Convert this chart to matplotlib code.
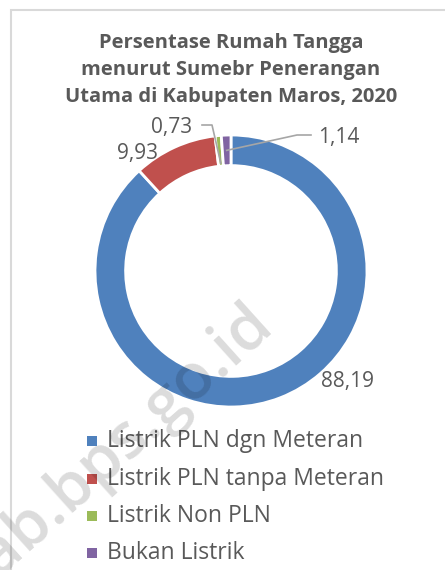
import matplotlib
matplotlib.use("Agg")
import matplotlib.pyplot as plt
from matplotlib.patches import Rectangle
import numpy as np

plt.rcParams['font.family'] = ['Open Sans', 'DejaVu Sans']

# data
categories = ['Listrik PLN dgn Meteran', 'Listrik PLN tanpa Meteran',
              'Listrik Non PLN', 'Bukan Listrik']
values = [88.19, 9.93, 0.73, 1.14]
value_labels = ['88,19', '9,93', '0,73', '1,14']
colors = ['#4F81BD', '#C0504D', '#9BBB59', '#8064A2']
title = 'Persentase Rumah Tangga\nmenurut Sumebr Penerangan\nUtama di Kabupaten Maros, 2020'

W, H = 445, 570
text_grey = '#595959'

fig = plt.figure(figsize=(W / 100, H / 100), dpi=100)
ax = fig.add_axes([0, 0, 1, 1])

# chart frame
ax.add_patch(Rectangle((11, -5), W, H - 5, fill=False,
                       edgecolor='#d9d9d9', lw=1.5))

cx, cy, r = 231, H - 271, 136
width = 0.225
wedges, _ = ax.pie(values, colors=colors, startangle=90, counterclock=False,
                   center=(cx, cy), radius=r, frame=True,
                   wedgeprops=dict(width=r * width, edgecolor='white', linewidth=2))
ax.set_xlim(0, W)
ax.set_ylim(0, H)
ax.set_aspect('equal')
ax.axis('off')

ax.text(cx, H - 70, title, ha='center', va='center', fontsize=14.5,
        fontweight='bold', color=text_grey, linespacing=1.45)


def ring_point(w, rr):
    ang = np.deg2rad((w.theta1 + w.theta2) / 2)
    return cx + rr * np.cos(ang), cy + rr * np.sin(ang)


lbl_fs = 15
# 88,19 and 9,93 without leader lines
ax.text(347, H - 382, value_labels[0], ha='center', va='center',
        fontsize=lbl_fs, color=text_grey)
ax.text(137, H - 154, value_labels[1], ha='center', va='center',
        fontsize=lbl_fs, color=text_grey)

# 0,73 with leader
tx, ty = ring_point(wedges[2], r * (1 - width) + 3)
ax.plot([202, 212, tx], [H - 125, H - 125, ty], color='#a6a6a6', lw=1.2)
ax.text(172, H - 127, value_labels[2], ha='center', va='center',
        fontsize=lbl_fs, color=text_grey)

# 1,14 with leader
tx, ty = ring_point(wedges[3], r * (1 - width / 2))
ax.plot([311, 297, tx], [H - 135, H - 135, ty], color='#a6a6a6', lw=1.2)
ax.text(339, H - 137, value_labels[3], ha='center', va='center',
        fontsize=lbl_fs, color=text_grey)

# legend
rows = [441, 479, 516, 553]
for cat, col, yy in zip(categories, colors, rows):
    ax.add_patch(Rectangle((87, H - yy - 5), 10, 10, facecolor=col, edgecolor='none'))
    ax.text(107, H - yy, cat, ha='left', va='center', fontsize=16.5, color=text_grey)

# watermark
fig.text(264 / W, 1 - 314 / H, 'maroskab.bps.go.id', rotation=42,
         rotation_mode='anchor', ha='right', va='center', fontsize=46,
         fontweight='semibold', color='black', alpha=0.14)

fig.savefig('out.png', dpi=100)
